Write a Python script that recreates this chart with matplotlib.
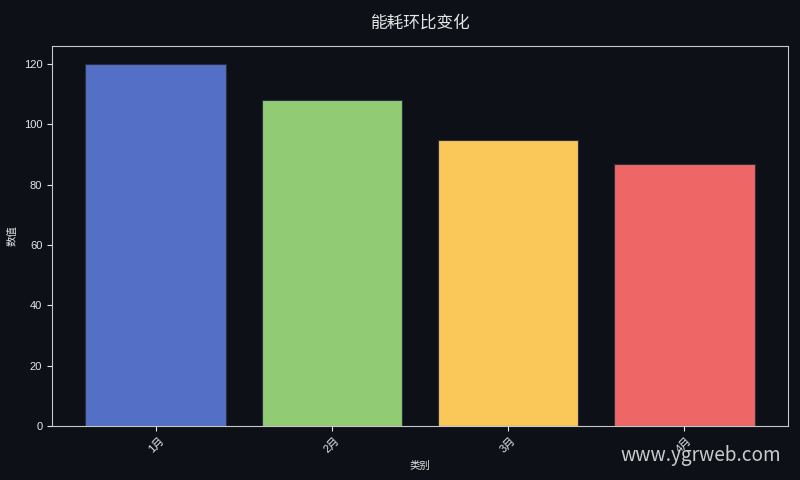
import matplotlib
matplotlib.use("Agg")
import matplotlib.pyplot as plt

plt.rcParams['font.family'] = ['Liberation Sans', 'Noto Sans CJK SC', 'DejaVu Sans']

categories = ['1月', '2月', '3月', '4月']
values = [120, 108, 95, 87]
colors = ['#5470c6', '#91cc75', '#fac858', '#ee6666']

bg = '#0d1017'
fg = '#e6e6e6'

fig = plt.figure(figsize=(8, 4.8), dpi=100, facecolor=bg)
ax = fig.add_axes([0.065, 0.1125, 0.92, 0.7915])
ax.set_facecolor(bg)

ax.bar(categories, values, color=colors, width=0.8, edgecolor='#2a3040', linewidth=0.8)

ax.set_title('能耗环比变化', color=fg, fontsize=12, pad=13,
             family=['Noto Sans CJK SC'])
ax.set_xlabel('类别', color=fg, fontsize=7.5)
ax.set_ylabel('数值', color=fg, fontsize=7.5)
ax.tick_params(colors=fg, labelsize=8)
plt.setp(ax.get_xticklabels(), rotation=45)
for s in ax.spines.values():
    s.set_color('#c8c8c8')

fig.text(0.977, 0.052, 'www.ygrweb.com', color='#e0e0e0', fontsize=13.7,
         ha='right', va='center', family=['Noto Sans CJK SC'], alpha=0.9)

fig.savefig('out.png', dpi=100, facecolor=bg)
